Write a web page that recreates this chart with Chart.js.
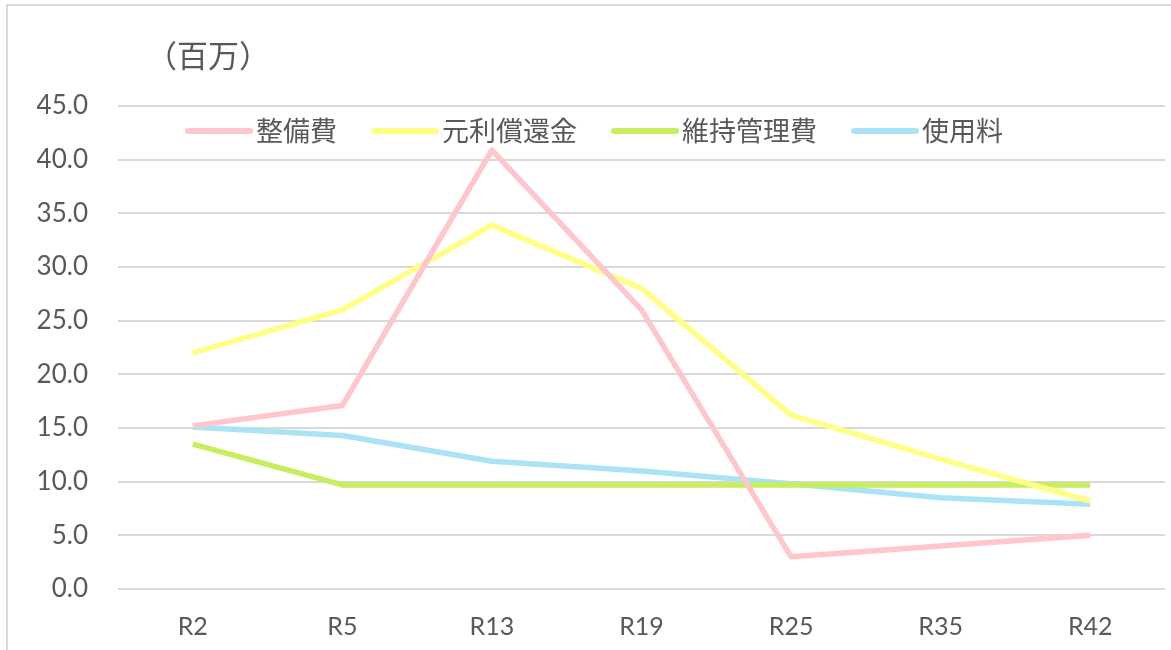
<!DOCTYPE html>
<html>
<head>
<meta charset="utf-8">
<script src="https://cdn.jsdelivr.net/npm/chart.js@4.4.1/dist/chart.umd.min.js"></script>
<style>
  body { margin: 0; background: #fff; }
  #wrap { position: absolute; left: 0; top: 0; width: 1171px; height: 650px; }
  #frame { position: absolute; left: 6px; top: 4px; width: 1180px; height: 660px;
           border: 2px solid #d9d9d9; box-sizing: border-box; pointer-events: none; }
</style>
</head>
<body>
<div id="wrap"><canvas id="costChart"></canvas></div>
<div id="frame"></div>
<script>
// === data ===
const years = ['R2', 'R5', 'R13', 'R19', 'R25', 'R35', 'R42'];
const seriesNames = ['整備費', '元利償還金', '維持管理費', '使用料'];
const seibiHi = [15.2, 17.1, 40.9, 26.0, 3.0, 4.0, 5.0];
const ganriShokan = [22.0, 26.0, 33.9, 28.0, 16.2, 12.1, 8.2];
const ijiKanri = [13.5, 9.7, 9.7, 9.7, 9.7, 9.7, 9.7];
const shiyoRyo = [15.1, 14.3, 11.9, 11.0, 9.8, 8.5, 7.9];
const seriesColors = ['#ffc6cc', '#ffff84', '#c6ee5e', '#aae3f5'];
const yTicks = [0, 5, 10, 15, 20, 25, 30, 35, 40, 45];
const unitLabel = '（百万）';

const textColor = '#595959';
const cjk = '"Noto Sans CJK JP", sans-serif';

// legend + unit label drawn inside the plot area, like the original sheet
const insideLegend = {
  id: 'insideLegend',
  afterDatasetsDraw(chart) {
    const { ctx, chartArea } = chart;
    ctx.save();
    ctx.font = '27px ' + cjk;
    ctx.textBaseline = 'middle';
    ctx.textAlign = 'left';
    let x = chartArea.left + 70;
    const y = chartArea.top + 25;
    chart.data.datasets.forEach(ds => {
      ctx.strokeStyle = ds.borderColor;
      ctx.lineWidth = 6;
      ctx.lineCap = 'round';
      ctx.beginPath();
      ctx.moveTo(x, y);
      ctx.lineTo(x + 62, y);
      ctx.stroke();
      x += 68;
      ctx.fillStyle = textColor;
      ctx.fillText(ds.label, x, y);
      x += ctx.measureText(ds.label).width + 37;
    });

    ctx.font = '31px ' + cjk;
    ctx.fillText(unitLabel, 146, 55);
    ctx.restore();
  }
};

const ctx1 = document.getElementById('costChart');
if (ctx1) {
  new Chart(ctx1, {
    type: 'line',
    data: {
      labels: years,
      datasets: [seibiHi, ganriShokan, ijiKanri, shiyoRyo].map((d, i) => ({
        label: seriesNames[i],
        data: d,
        borderColor: seriesColors[i],
        backgroundColor: seriesColors[i],
        borderWidth: 5.5,
        pointRadius: 0,
        tension: 0,
        borderJoinStyle: 'round',
        fill: false
      }))
    },
    options: {
      responsive: true,
      maintainAspectRatio: false,
      animation: false,
      layout: { padding: { top: 106, right: 6, left: 0, bottom: 0 } },
      plugins: { legend: { display: false }, tooltip: { enabled: false } },
      scales: {
        x: {
          offset: true,
          grid: { display: false },
          border: { display: false },
          ticks: { color: textColor, padding: 15, font: { size: 25, family: 'Lato, sans-serif' } },
          afterFit: s => { s.height = 61; }
        },
        y: {
          min: 0,
          max: 45,
          afterBuildTicks: s => { s.ticks = yTicks.map(v => ({ value: v })); },
          grid: { color: '#d9d9d9', lineWidth: 2, drawTicks: false },
          border: { display: false },
          ticks: {
            color: textColor,
            padding: 30,
            font: { size: 26, family: 'Lato, sans-serif' },
            callback: v => Number(v).toFixed(1)
          },
          afterFit: s => { s.width = 118; }
        }
      }
    },
    plugins: [insideLegend]
  });
}
</script>
</body>
</html>
